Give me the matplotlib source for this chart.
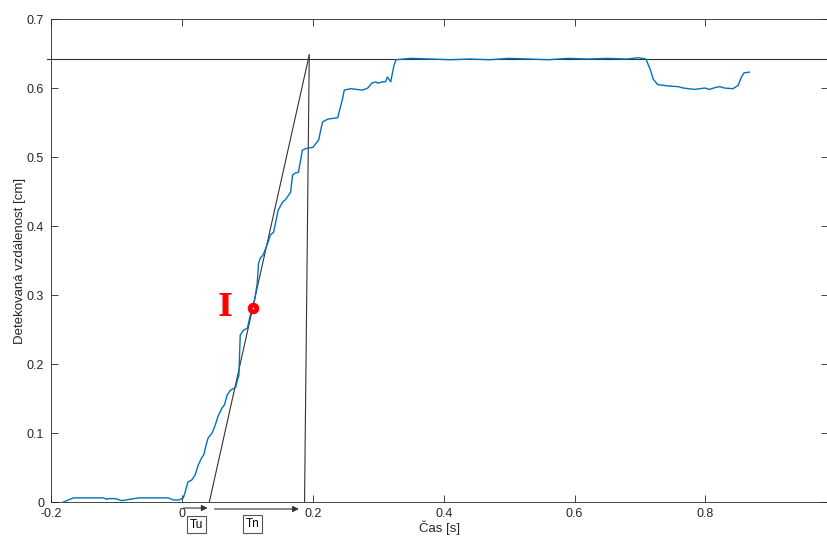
import matplotlib
matplotlib.use("Agg")
import matplotlib.pyplot as plt

plt.rcParams['font.family'] = ['Liberation Sans', 'DejaVu Sans']
plt.rcParams['axes.unicode_minus'] = False

# measured step response
cas = [-0.181, -0.166, -0.120, -0.115, -0.111, -0.102, -0.092, -0.079, -0.066,
       -0.021, -0.013, -0.005, 0.000, 0.002, 0.005, 0.009, 0.015, 0.020, 0.025,
       0.030, 0.033, 0.037, 0.040, 0.046, 0.051, 0.055, 0.061, 0.065, 0.069,
       0.074, 0.082, 0.084, 0.087, 0.089, 0.094, 0.100, 0.106, 0.111, 0.115,
       0.117, 0.120, 0.124, 0.131, 0.135, 0.140, 0.147, 0.154, 0.158, 0.166,
       0.169, 0.174, 0.178, 0.184, 0.192, 0.200, 0.209, 0.212, 0.215, 0.223,
       0.238, 0.245, 0.248, 0.258, 0.276, 0.284, 0.290, 0.296, 0.299, 0.307,
       0.311, 0.314, 0.319, 0.324, 0.327, 0.350, 0.380, 0.410, 0.440, 0.470,
       0.500, 0.530, 0.560, 0.590, 0.620, 0.650, 0.680, 0.697, 0.709, 0.716,
       0.720, 0.727, 0.743, 0.758, 0.766, 0.783, 0.799, 0.806, 0.816, 0.822,
       0.829, 0.842, 0.850, 0.855, 0.859, 0.867]
vzdalenost = [0.000, 0.006, 0.006, 0.004, 0.005, 0.005, 0.002, 0.004, 0.006,
              0.006, 0.003, 0.003, 0.005, 0.006, 0.015, 0.029, 0.032, 0.039, 0.054,
              0.064, 0.068, 0.083, 0.093, 0.100, 0.112, 0.124, 0.136, 0.141, 0.155,
              0.162, 0.166, 0.174, 0.184, 0.242, 0.249, 0.252, 0.278, 0.293, 0.317,
              0.346, 0.354, 0.358, 0.375, 0.387, 0.391, 0.423, 0.435, 0.438, 0.449,
              0.474, 0.477, 0.478, 0.510, 0.513, 0.514, 0.525, 0.539, 0.551, 0.555,
              0.557, 0.583, 0.597, 0.599, 0.597, 0.600, 0.607, 0.609, 0.607, 0.609,
              0.609, 0.616, 0.609, 0.633, 0.641, 0.643, 0.642, 0.641, 0.642, 0.641,
              0.643, 0.642, 0.641, 0.643, 0.642, 0.643, 0.642, 0.644, 0.642, 0.626,
              0.613, 0.605, 0.603, 0.602, 0.600, 0.598, 0.600, 0.598, 0.601, 0.602,
              0.600, 0.599, 0.604, 0.616, 0.622, 0.623]

# steady value, tangent through the inflection point
ustalena = 0.6415
tecna_x = [0.0418, 0.1945]
tecna_y = [0.0, 0.648]
svisla_x = [0.1945, 0.1873]
svisla_y = [0.648, 0.0]
inflexe_x = 0.109
inflexe_y = 0.281

xticks = [-0.2, 0, 0.2, 0.4, 0.6, 0.8]
xtick_labels = ['-0.2', '0', '0.2', '0.4', '0.6', '0.8']
yticks = [0, 0.1, 0.2, 0.3, 0.4, 0.5, 0.6, 0.7]
ytick_labels = ['0', '0.1', '0.2', '0.3', '0.4', '0.5', '0.6', '0.7']

osa = '#262626'
fig = plt.figure(figsize=(8.27, 5.39), dpi=100)
ax = fig.add_axes([0.0618, 0.0686, 0.9400, 0.8961])

ax.plot(cas, vzdalenost, color='#0072BD', lw=1.0, zorder=3)
ax.plot([-0.206, 1.0], [ustalena, ustalena], color='#333333', lw=0.8, clip_on=False, zorder=2)
ax.plot(tecna_x, tecna_y, color='#333333', lw=0.8, zorder=2)
ax.plot(svisla_x, svisla_y, color='#333333', lw=0.8, zorder=2)
ax.plot(inflexe_x, inflexe_y, 'o', color='red', markersize=7.3, zorder=4)
ax.plot(inflexe_x, inflexe_y, 'o', color='white', markersize=1.2, markeredgewidth=0, zorder=5)
ax.text(0.0663, 0.2826, 'I', color='red', fontsize=23, fontweight='bold',
        family='DejaVu Serif', ha='center', va='center')

# Tu / Tn arrows under the time axis
ax.annotate('', xy=(0.0392, -0.0087), xytext=(0.0025, -0.0087),
            arrowprops=dict(arrowstyle='-|>', color='#333333', lw=0.8,
                            mutation_scale=9, shrinkA=0, shrinkB=0),
            annotation_clip=False)
ax.annotate('', xy=(0.1786, -0.0101), xytext=(0.0495, -0.0101),
            arrowprops=dict(arrowstyle='-|>', color='#333333', lw=0.8,
                            mutation_scale=9, shrinkA=0, shrinkB=0),
            annotation_clip=False)
box = dict(boxstyle='square,pad=0.25', facecolor='white', edgecolor='#555555', lw=0.8)
ax.text(0.0219, -0.0326, 'Tu', fontsize=8.5, ha='center', va='center', bbox=box, clip_on=False)
ax.text(0.1080, -0.0316, 'Tn', fontsize=8.5, ha='center', va='center', bbox=box, clip_on=False)

ax.set_xlim(-0.2, 0.988)
ax.set_ylim(0, 0.7)
ax.set_xticks(xticks)
ax.set_xticklabels(xtick_labels)
ax.set_yticks(yticks)
ax.set_yticklabels(ytick_labels)
ax.tick_params(direction='in', length=5, width=0.6, top=True, right=True,
               labelsize=9, colors=osa, pad=4)
ax.tick_params(axis='y', pad=5)
for s in ax.spines.values():
    s.set_color(osa)
    s.set_linewidth(0.6)
ax.set_xlabel('Čas [s]', fontsize=9.5, color=osa, labelpad=1)
ax.set_ylabel('Detekovaná vzdálenost [cm]', fontsize=9.5, color=osa, labelpad=0.5)

fig.savefig('out.png', dpi=100)
